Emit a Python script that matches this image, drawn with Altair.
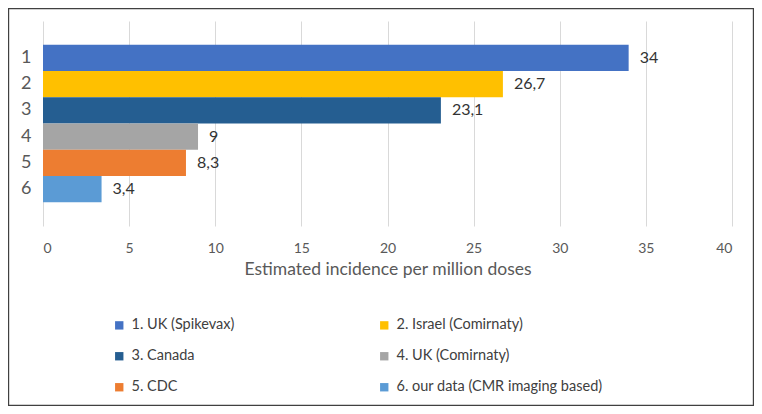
import altair as alt
import pandas as pd

categories = ["1", "2", "3", "4", "5", "6"]
series_names = ["1. UK (Spikevax)", "2. Israel (Comirnaty)", "3. Canada",
                "4. UK (Comirnaty)", "5. CDC", "6. our data (CMR imaging based)"]
values = [34, 26.7, 23.1, 9, 8.3, 3.4]
colors = ["#4472C4", "#FFC000", "#255E91", "#A5A5A5", "#ED7D31", "#5B9BD5"]
x_ticks = [0, 5, 10, 15, 20, 25, 30, 35, 40]

df = pd.DataFrame({
    "cat": categories,
    "series": series_names,
    "value": values,
    "label": [("%g" % v).replace(".", ",") for v in values],
})

FONT = "Lato"
GRAY = "#595959"

W, H = 689, 205
PL, PT = 35, 13
TOTW, TOTH = 746, 398

base = alt.Chart(df)

bars = base.mark_bar().encode(
    x=alt.X("value:Q",
            scale=alt.Scale(domain=[0, 40], nice=False),
            axis=alt.Axis(values=x_ticks, title="Estimated incidence per million doses",
                          grid=True, gridColor="#D9D9D9", domain=False, ticks=False,
                          labelPadding=15, labelFontSize=14, labelColor=GRAY,
                          titleFontSize=17.5, titleColor=GRAY, titleFontWeight="normal",
                          titleY=34, titleBaseline="top",
                          labelFont=FONT, titleFont=FONT)),
    y=alt.Y("cat:N", sort=categories,
            scale=alt.Scale(domain=categories, paddingInner=0, paddingOuter=0.9),
            axis=alt.Axis(title=None, domain=False, ticks=False, grid=False,
                          labelFontSize=18, labelColor=GRAY, labelPadding=12,
                          labelFont=FONT)),
    color=alt.Color("series:N", sort=series_names,
                    scale=alt.Scale(domain=series_names, range=colors),
                    legend=alt.Legend(title=None, orient="none", legendX=69, legendY=297,
                                      direction="horizontal",
                                      columns=2, columnPadding=142, rowPadding=16,
                                      symbolType="square", symbolSize=70,
                                      symbolStrokeWidth=0, labelFontSize=14.5,
                                      labelColor="#404040", labelFont=FONT,
                                      labelOffset=5, labelLimit=400)),
)

texts = base.mark_text(align="left", baseline="middle", dx=11, fontSize=16,
                       color="#333333", font=FONT).encode(
    x="value:Q",
    y=alt.Y("cat:N", sort=categories),
    text="label:N",
)

frame = alt.Chart(pd.DataFrame({"k": [0]})).mark_rect(
    fill=None, stroke="#404040", strokeWidth=1.2).encode(
    x=alt.value(-PL + 0.6), x2=alt.value(TOTW - PL - 0.6),
    y=alt.value(-PT + 0.6), y2=alt.value(TOTH - PT - 0.6),
)

chart = alt.layer(bars, texts, frame).properties(
    width=W, height=H,
    autosize=alt.AutoSizeParams(type="none"),
    padding={"left": PL, "top": PT, "right": TOTW - PL - W, "bottom": TOTH - PT - H},
    background="white",
).configure_view(stroke=None)

chart.save("out.html", embed_options={"renderer": "svg", "actions": False})
